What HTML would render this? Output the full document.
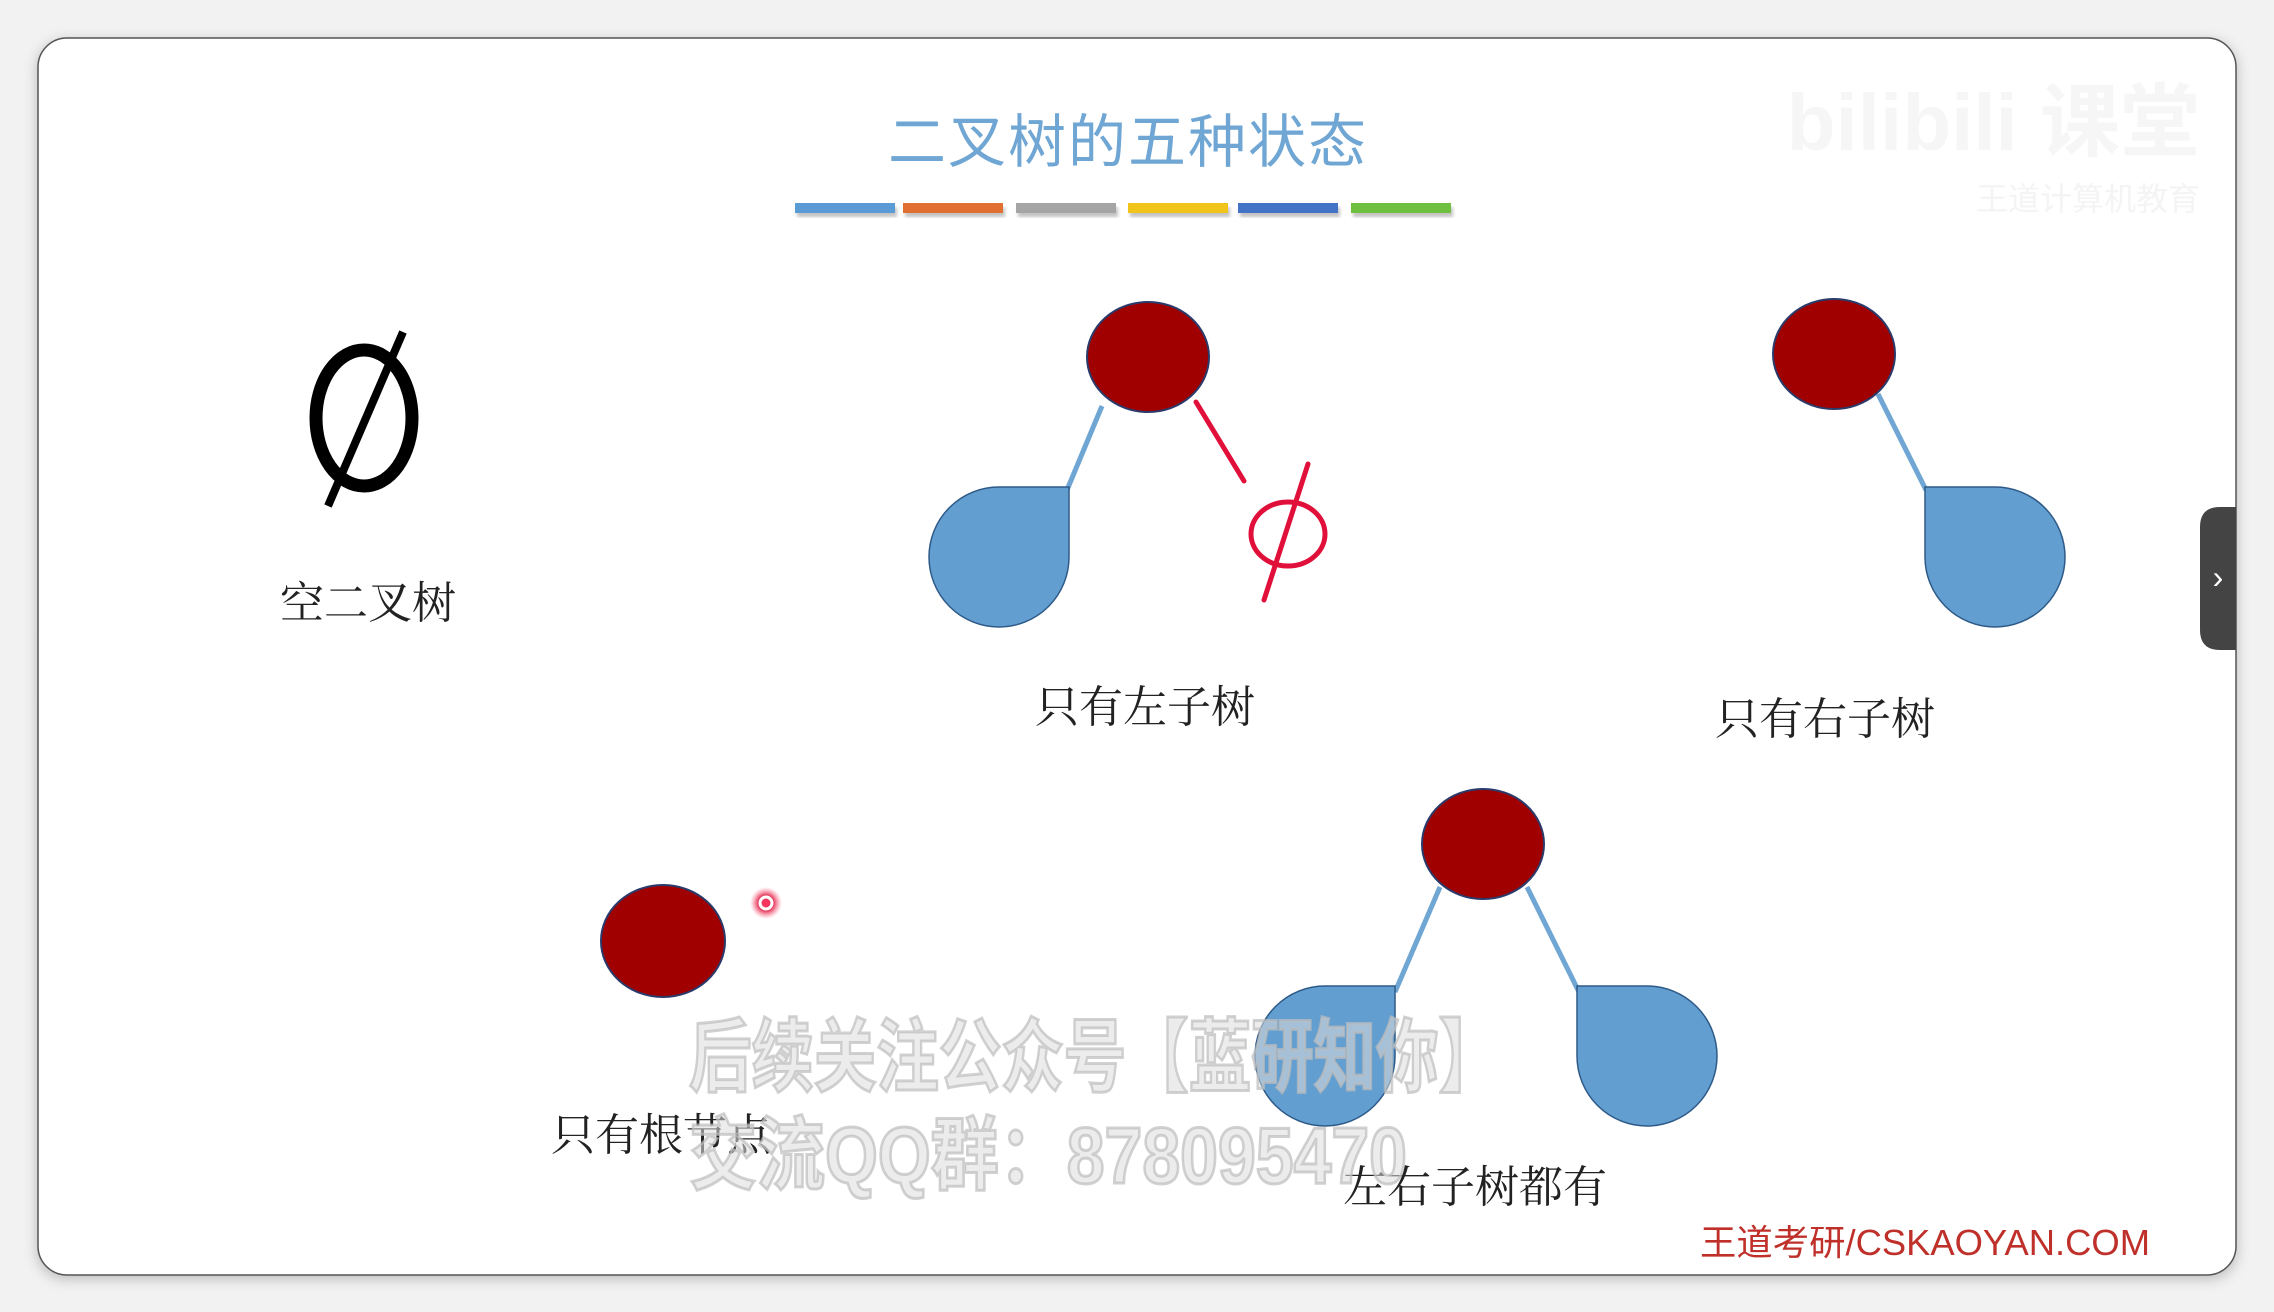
<!DOCTYPE html>
<html><head><meta charset="utf-8"><style>
html,body{margin:0;padding:0;background:#f2f2f2;}
body{width:2274px;height:1312px;overflow:hidden;position:relative;}
svg{position:absolute;left:0;top:0;}
</style></head><body>
<svg width="2274" height="1312" viewBox="0 0 2274 1312" xmlns="http://www.w3.org/2000/svg">
<defs>
<filter id="sh" x="-5%" y="-5%" width="110%" height="110%"><feGaussianBlur stdDeviation="6"/></filter>
<filter id="bs"><feGaussianBlur stdDeviation="1.5"/></filter>
<radialGradient id="dot"><stop offset="0" stop-color="#ff3060"/><stop offset="0.5" stop-color="#e0103a" stop-opacity="0.8"/><stop offset="1" stop-color="#ff6080" stop-opacity="0"/></radialGradient>
</defs>
<rect x="36" y="40" width="2202" height="1240" rx="30" fill="#888" opacity="0.45" filter="url(#sh)"/>
<rect x="38" y="38" width="2198" height="1237" rx="29" fill="#ffffff" stroke="#555" stroke-width="1.5"/>

<text x="1128" y="162" text-anchor="middle" font-family="'Liberation Sans','Noto Sans CJK SC',sans-serif" font-size="58" fill="#6fa6d3" letter-spacing="2">二叉树的五种状态</text>
<g filter="url(#bs)" opacity="0.5">
<rect x="797" y="207" width="100" height="10" fill="#888"/><rect x="905" y="207" width="100" height="10" fill="#888"/><rect x="1018" y="207" width="100" height="10" fill="#888"/><rect x="1130" y="207" width="100" height="10" fill="#888"/><rect x="1240" y="207" width="100" height="10" fill="#888"/><rect x="1353" y="207" width="100" height="10" fill="#888"/>
</g>
<rect x="795" y="203" width="100" height="10" fill="#5b9bd5"/>
<rect x="903" y="203" width="100" height="10" fill="#e07030"/>
<rect x="1016" y="203" width="100" height="10" fill="#a5a5a5"/>
<rect x="1128" y="203" width="100" height="10" fill="#f0c419"/>
<rect x="1238" y="203" width="100" height="10" fill="#4472c4"/>
<rect x="1351" y="203" width="100" height="10" fill="#70c040"/>

<text x="2200" y="150" text-anchor="end" font-family="'Liberation Sans','Noto Sans CJK SC',sans-serif" font-size="80" font-weight="bold" fill="#f6f6f6">bilibili 课堂</text>
<text x="2200" y="210" text-anchor="end" font-family="'Liberation Sans','Noto Sans CJK SC',sans-serif" font-size="32" fill="#f4f4f4">王道计算机教育</text>

<ellipse cx="364" cy="418" rx="48" ry="68" fill="none" stroke="#000" stroke-width="13"/>
<line x1="403" y1="332" x2="328" y2="506" stroke="#000" stroke-width="8"/>
<text x="368" y="618" text-anchor="middle" font-family="'Liberation Serif','Noto Serif CJK SC',serif" font-size="44" fill="#222">空二叉树</text>

<line x1="1102" y1="406" x2="1067" y2="490" stroke="#6fa6d3" stroke-width="5"/>
<path d="M999,487 L1069,487 L1069,557 A70,70 0 1 1 999,487 Z" fill="#629ed0" stroke="#2e5a88" stroke-width="1.5"/>
<ellipse cx="1148" cy="357" rx="61" ry="55" fill="#a00000" stroke="#2a3a6a" stroke-width="2"/>
<line x1="1196" y1="402" x2="1244" y2="481" stroke="#e0103a" stroke-width="5" stroke-linecap="round"/>
<ellipse cx="1288" cy="534" rx="37" ry="32" fill="none" stroke="#e0103a" stroke-width="5"/>
<line x1="1308" y1="464" x2="1264" y2="600" stroke="#e0103a" stroke-width="5" stroke-linecap="round"/>
<text x="1145" y="722" text-anchor="middle" font-family="'Liberation Serif','Noto Serif CJK SC',serif" font-size="44" fill="#222">只有左子树</text>

<line x1="1878" y1="394" x2="1926" y2="490" stroke="#6fa6d3" stroke-width="5"/>
<path d="M1995,487 L1925,487 L1925,557 A70,70 0 1 0 1995,487 Z" fill="#629ed0" stroke="#2e5a88" stroke-width="1.5"/>
<ellipse cx="1834" cy="354" rx="61" ry="55" fill="#a00000" stroke="#2a3a6a" stroke-width="2"/>
<text x="1825" y="734" text-anchor="middle" font-family="'Liberation Serif','Noto Serif CJK SC',serif" font-size="44" fill="#222">只有右子树</text>

<ellipse cx="663" cy="941" rx="62" ry="56" fill="#a00000" stroke="#2a3a6a" stroke-width="2"/>
<circle cx="766" cy="903" r="16" fill="url(#dot)"/>
<circle cx="766" cy="903" r="6" fill="none" stroke="#fff" stroke-width="3"/>
<text x="661" y="1150" text-anchor="middle" font-family="'Liberation Serif','Noto Serif CJK SC',serif" font-size="44" fill="#222">只有根节点</text>

<line x1="1440" y1="887" x2="1395" y2="992" stroke="#6fa6d3" stroke-width="5"/>
<line x1="1527" y1="887" x2="1579" y2="992" stroke="#6fa6d3" stroke-width="5"/>
<path d="M1325,986 L1395,986 L1395,1056 A70,70 0 1 1 1325,986 Z" fill="#629ed0" stroke="#2e5a88" stroke-width="1.5"/>
<path d="M1647,986 L1577,986 L1577,1056 A70,70 0 1 0 1647,986 Z" fill="#629ed0" stroke="#2e5a88" stroke-width="1.5"/>
<ellipse cx="1483" cy="844" rx="61" ry="55" fill="#a00000" stroke="#2a3a6a" stroke-width="2"/>
<text x="1475" y="1202" text-anchor="middle" font-family="'Liberation Serif','Noto Serif CJK SC',serif" font-size="44" fill="#222">左右子树都有</text>

<g font-family="'Liberation Sans','Noto Sans CJK SC',sans-serif" font-weight="bold" fill="#dcdcdc" fill-opacity="0.55" stroke="#bdbdbd" stroke-opacity="0.7" stroke-width="3">
<text x="689" y="1085" font-size="80" textLength="812" lengthAdjust="spacingAndGlyphs">后续关注公众号【蓝研知你】</text>
<text x="689" y="1183" font-size="80" textLength="718" lengthAdjust="spacingAndGlyphs">交流QQ群：878095470</text>
</g>

<text x="2150" y="1255" text-anchor="end" font-family="'Liberation Sans','Noto Sans CJK SC',sans-serif" font-size="36" fill="#c0302a" textLength="450" lengthAdjust="spacingAndGlyphs">王道考研/CSKAOYAN.COM</text>

<path d="M2236,507 L2220,507 Q2200,507 2200,527 L2200,630 Q2200,650 2220,650 L2236,650 Z" fill="#444"/>
<text x="2218" y="588" text-anchor="middle" font-family="'Liberation Sans',sans-serif" font-size="32" fill="#fff">›</text>
</svg>
</body></html>
